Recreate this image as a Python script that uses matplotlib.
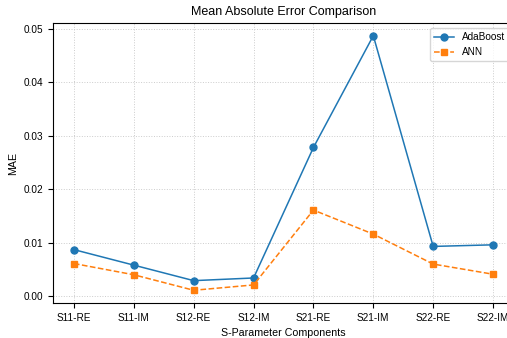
import matplotlib
matplotlib.use('Agg')
import matplotlib.pyplot as plt

plt.rcParams['font.family'] = ['Liberation Sans', 'DejaVu Sans']

components = ['S11-RE', 'S11-IM', 'S12-RE', 'S12-IM', 'S21-RE', 'S21-IM', 'S22-RE', 'S22-IM']
adaboost_mae = [0.0087, 0.0058, 0.0029, 0.0034, 0.0278, 0.0487, 0.0093, 0.0096]
ann_mae = [0.0061, 0.0040, 0.0011, 0.0021, 0.0161, 0.0116, 0.0060, 0.0041]

fig = plt.figure(figsize=(5.07, 3.38), dpi=100)
# axes run past the right edge on purpose (original was clipped)
ax = fig.add_axes([53 / 507, 1 - 303 / 338, 461 / 507, 280 / 338])

ax.plot(components, adaboost_mae, marker='o', linestyle='-', color='#1f77b4',
        linewidth=1.1, markersize=5, label='AdaBoost')
ax.plot(components, ann_mae, marker='s', linestyle='--', color='#ff7f0e',
        linewidth=1.1, markersize=5, label='ANN')

ax.set_title('Mean Absolute Error Comparison', fontsize=9)
ax.set_xlabel('S-Parameter Components', fontsize=7.7)
ax.set_ylabel('MAE', fontsize=7.7)
ax.tick_params(labelsize=7.2)
ax.set_yticks([0.0, 0.01, 0.02, 0.03, 0.04, 0.05])
ax.set_yticklabels(['0.00', '0.01', '0.02', '0.03', '0.04', '0.05'])
ax.grid(True, linestyle=':', color='#cccccc', linewidth=0.7)
ax.legend(loc='upper right', fontsize=7.2)

fig.savefig('out.png', dpi=100)
